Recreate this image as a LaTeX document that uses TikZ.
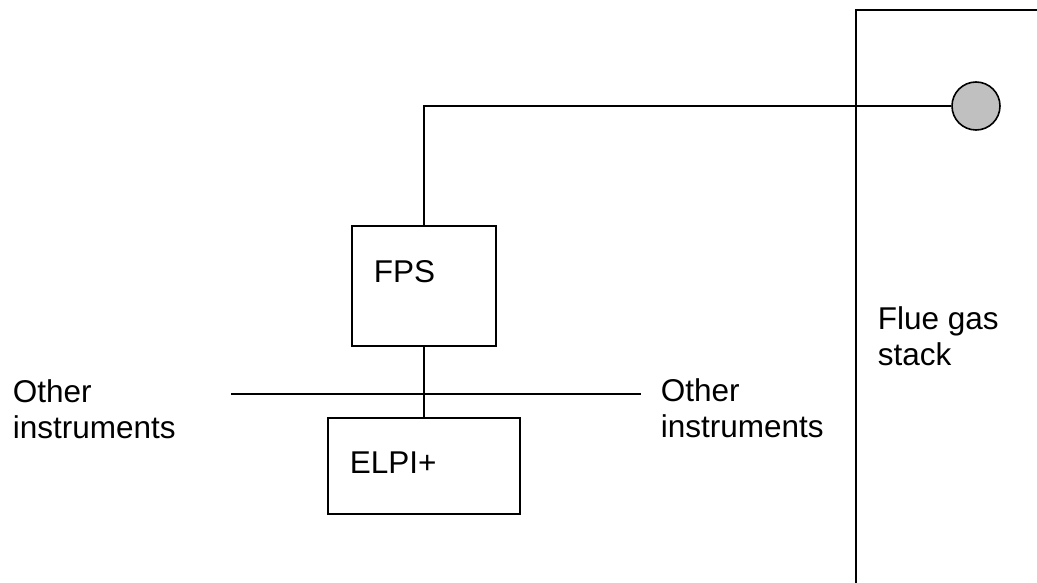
\documentclass[tikz,border=0pt]{standalone}
\usepackage{fontspec}
\setmainfont{Liberation Sans}
\usepackage{xcolor}
\usepackage{tikz}
\usetikzlibrary{positioning}
\definecolor{probegray}{HTML}{C0C0C0}

\begin{document}
\begin{tikzpicture}[
 x=1pt,y=-1pt,
 line width=1.6pt,
 box/.style={draw,rectangle,inner sep=0pt},
 probe/.style={draw,circle,fill=probegray,minimum size=48pt,inner sep=0pt},
 lbl/.style={font=\fontsize{31.5}{36}\selectfont,align=left,inner sep=0pt}
]
\useasboundingbox (0,0) rectangle (1037,583);
% stack wall
\draw (856,583) -- (856,10) -- (1037,10);
\node[probe] (tip) at (976,106) {};
\node[box,minimum width=144pt,minimum height=120pt] (fps) at (424,286) {};
\node[box,minimum width=192pt,minimum height=96pt] (elpi) at (424,466) {};
\node[lbl,anchor=base west] (fpstxt) at (373,282) {FPS};
\node[lbl,anchor=base west] (elpitxt) at (349,473) {ELPI+};
\node[lbl,anchor=north west] (othl) at (12,379) {Other\\instruments};
\node[lbl,anchor=north west] (othr) at (660,378) {Other\\instruments};
\node[lbl,anchor=north west] (flue) at (877,306) {Flue gas\\stack};
\coordinate (busl) at (231,394);
\coordinate (busr) at (641,394);
% sampling line
\draw (fps.north) |- (tip.west);
\draw (fps.south) -- (elpi.north);
\draw (busl) -- (busr);
\end{tikzpicture}
\end{document}
